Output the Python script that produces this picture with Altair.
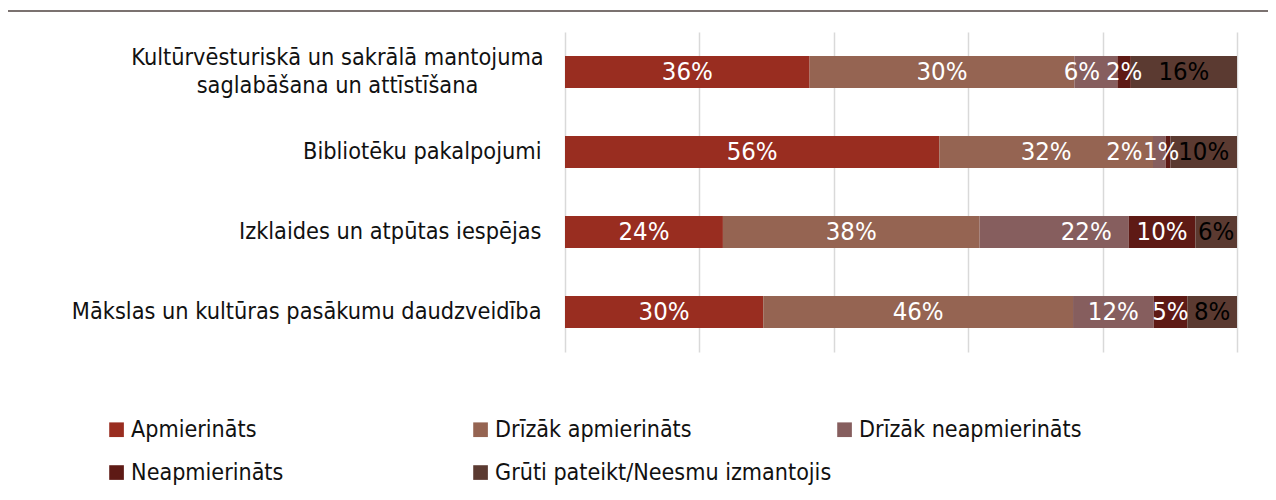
import altair as alt
import pandas as pd

categories = [
    "Kultūrvēsturiskā un sakrālā mantojuma\nsaglabāšana un attīstīšana",
    "Bibliotēku pakalpojumi",
    "Izklaides un atpūtas iespējas",
    "Mākslas un kultūras pasākumu daudzveidība",
]
series = [
    "Apmierināts",
    "Drīzāk apmierināts",
    "Drīzāk neapmierināts",
    "Neapmierināts",
    "Grūti pateikt/Neesmu izmantojis",
]
# segment widths as drawn (percent of bar)
values = [
    [36.4, 39.4, 6.4, 2.0, 15.8],
    [55.7, 31.8, 1.9, 0.7, 9.9],
    [23.5, 38.2, 22.2, 9.9, 6.2],
    [29.5, 46.1, 12.0, 5.0, 7.4],
]
# data labels as printed
labels = [
    ["36%", "30%", "6%", "2%", "16%"],
    ["56%", "32%", "2%", "1%", "10%"],
    ["24%", "38%", "22%", "10%", "6%"],
    ["30%", "46%", "12%", "5%", "8%"],
]
colors = ["#992D20", "#956452", "#865E5E", "#5E1A15", "#5B3A31"]

# style: manual label nudges (pixels), as the labels were dragged in the original
PLOT_W = 672
label_nudge_px = {(0, 2): -14, (1, 2): -35, (1, 3): -7, (2, 2): 32}

rows = []
for ci, cat in enumerate(categories):
    for si, s in enumerate(series):
        rows.append({"category": cat, "series": s, "idx": si,
                     "value": values[ci][si], "label": labels[ci][si],
                     "nudge": label_nudge_px.get((ci, si), 0) * 100.0 / PLOT_W})
df = pd.DataFrame(rows)

FONT = "DejaVu Sans Condensed, DejaVu Sans"
MULTI = "indexof(datum.value, '\\n') >= 0"

base = alt.Chart(df).transform_stack(
    stack="value", as_=["x0", "x1"], groupby=["category"],
    sort=[alt.SortField("idx", order="ascending")],
).transform_calculate(mid="(datum.x0 + datum.x1) / 2 + datum.nudge")

y_enc = alt.Y(
    "category:N", sort=categories, title=None,
    scale=alt.Scale(paddingInner=0.6, paddingOuter=0.3),
    axis=alt.Axis(
        domain=False, ticks=False, labelFontSize=23.3, labelFont=FONT,
        labelColor="#111111", labelLimit=700, labelLineHeight=28,
        labelExpr="split(datum.label, '\\n')",
        labelAlign={"condition": {"test": MULTI, "value": "center"}, "value": "right"},
        labelPadding={"condition": {"test": MULTI, "value": 228}, "value": 24},
        labelOffset={"condition": {"test": MULTI, "value": -14}, "value": 0},
    ),
)

bars = base.mark_bar().encode(
    x=alt.X("x0:Q", scale=alt.Scale(domain=[0, 100], nice=False), title=None,
            axis=alt.Axis(values=[0, 20, 40, 60, 80, 100], labels=False, ticks=False,
                          domain=False, grid=True, gridColor="#D9D9D9", gridWidth=1.5)),
    x2="x1:Q",
    y=y_enc,
    color=alt.Color(
        "series:N", sort=series,
        scale=alt.Scale(domain=series, range=colors),
        legend=alt.Legend(
            title=None, orient="none", legendX=-460, legendY=386, direction="horizontal",
            columns=3, columnPadding=1, rowPadding=19, gridAlign="all",
            symbolType="square", symbolSize=215, symbolStrokeWidth=0,
            labelFontSize=23.1, labelFont=FONT, labelColor="#111111", labelOffset=3,
            labelLimit=700, padding=0,
        ),
    ),
)

texts = base.mark_text(fontSize=25.5, font=FONT, baseline="middle", align="center").encode(
    x="mid:Q",
    y=alt.Y("category:N", sort=categories),
    text="label:N",
    color=alt.condition(alt.datum.idx == 4, alt.value("#000000"), alt.value("#FFFFFF")),
)

top_rule = alt.Chart(pd.DataFrame({"k": [0]})).mark_rule(
    color="#4F4340", strokeWidth=1.3
).encode(x=alt.value(-557), x2=alt.value(740), y=alt.value(-21))

chart = alt.layer(bars, texts, top_rule).properties(
    width=PLOT_W, height=320,
    autosize=alt.AutoSizeParams(type="none"),
    padding={"left": 557, "top": 24, "right": 31, "bottom": 134},
).configure_view(stroke=None)

chart.save("out.html", embed_options={"renderer": "svg", "actions": False})
